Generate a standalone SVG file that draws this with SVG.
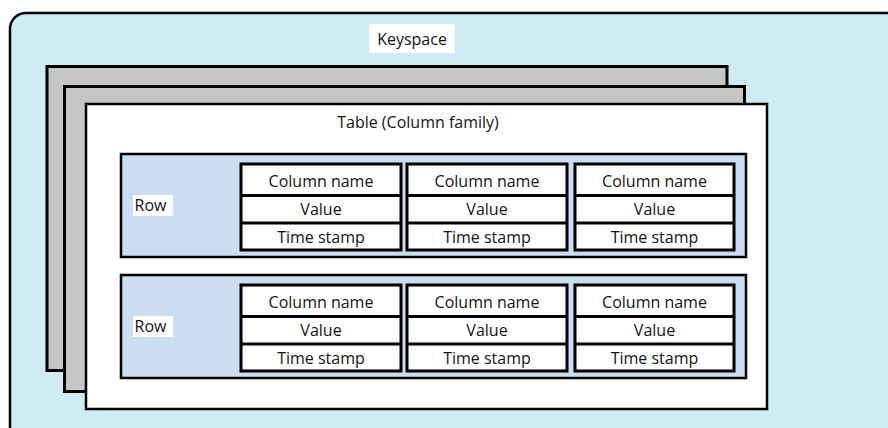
<svg xmlns="http://www.w3.org/2000/svg" width="888" height="428" viewBox="0 0 888 428">
  <style>
    text { font-family: "Open Sans", "Liberation Sans", sans-serif; font-size: 16px; fill: #141414; }
    .mid { text-anchor: middle; dominant-baseline: central; }
    .keyspace { fill: #cfecf4; stroke: #000; stroke-width: 2.5; }
    .sheet { fill: #c6c6c6; stroke: #000; stroke-width: 3; }
    .table { fill: #fff; stroke: #000; stroke-width: 2.5; }
    .row { fill: #cbddf1; stroke: #000; stroke-width: 2.5; }
    .cell { fill: #fff; stroke: #000; stroke-width: 3; }
    .rule { stroke: #000; stroke-width: 3; }
    .tag { fill: #fff; }
  </style>

  <!-- Keyspace container -->
  <g id="keyspace">
    <rect class="keyspace" x="10" y="13" width="892" height="430" rx="16"/>
    <rect class="tag" x="369" y="24" width="86" height="29"/>
    <text class="mid" x="412" y="38.5">Keyspace</text>
  </g>

  <!-- Stacked tables behind -->
  <g id="table-back-2">
    <rect class="sheet" x="47" y="66.5" width="680" height="304"/>
  </g>
  <g id="table-back-1">
    <rect class="sheet" x="64.5" y="86.5" width="680" height="305"/>
  </g>

  <!-- Front table -->
  <g id="table">
    <rect class="table" x="86" y="104" width="681" height="305"/>
    <text class="mid" x="418" y="122">Table (Column family)</text>
  </g>

  <!-- Row 1 -->
  <g id="row-1">
    <rect class="row" x="121" y="154" width="625" height="103"/>
    <rect class="tag" x="133" y="195" width="40" height="21"/>
    <text x="134.5" y="211">Row</text>
  </g>
  <g id="row-1-col-1">
    <rect class="cell" x="241" y="164" width="160" height="86"/>
    <line class="rule" x1="241" y1="195.5" x2="401" y2="195.5"/>
    <line class="rule" x1="241" y1="223" x2="401" y2="223"/>
    <text class="mid" x="321" y="180.5">Column name</text>
    <text class="mid" x="321" y="209">Value</text>
    <text class="mid" x="321" y="237">Time stamp</text>
  </g>
  <g id="row-1-col-2">
    <rect class="cell" x="407" y="164" width="160" height="86"/>
    <line class="rule" x1="407" y1="195.5" x2="567" y2="195.5"/>
    <line class="rule" x1="407" y1="223" x2="567" y2="223"/>
    <text class="mid" x="487" y="180.5">Column name</text>
    <text class="mid" x="487" y="209">Value</text>
    <text class="mid" x="487" y="237">Time stamp</text>
  </g>
  <g id="row-1-col-3">
    <rect class="cell" x="575" y="164" width="159" height="86"/>
    <line class="rule" x1="575" y1="195.5" x2="734" y2="195.5"/>
    <line class="rule" x1="575" y1="223" x2="734" y2="223"/>
    <text class="mid" x="654.5" y="180.5">Column name</text>
    <text class="mid" x="654.5" y="209">Value</text>
    <text class="mid" x="654.5" y="237">Time stamp</text>
  </g>

  <!-- Row 2 -->
  <g id="row-2">
    <rect class="row" x="121" y="275" width="625" height="103"/>
    <rect class="tag" x="133" y="316" width="40" height="21"/>
    <text x="134.5" y="332">Row</text>
  </g>
  <g id="row-2-col-1">
    <rect class="cell" x="241" y="285" width="160" height="86"/>
    <line class="rule" x1="241" y1="316.5" x2="401" y2="316.5"/>
    <line class="rule" x1="241" y1="344" x2="401" y2="344"/>
    <text class="mid" x="321" y="301.5">Column name</text>
    <text class="mid" x="321" y="330">Value</text>
    <text class="mid" x="321" y="358">Time stamp</text>
  </g>
  <g id="row-2-col-2">
    <rect class="cell" x="407" y="285" width="160" height="86"/>
    <line class="rule" x1="407" y1="316.5" x2="567" y2="316.5"/>
    <line class="rule" x1="407" y1="344" x2="567" y2="344"/>
    <text class="mid" x="487" y="301.5">Column name</text>
    <text class="mid" x="487" y="330">Value</text>
    <text class="mid" x="487" y="358">Time stamp</text>
  </g>
  <g id="row-2-col-3">
    <rect class="cell" x="575" y="285" width="159" height="86"/>
    <line class="rule" x1="575" y1="316.5" x2="734" y2="316.5"/>
    <line class="rule" x1="575" y1="344" x2="734" y2="344"/>
    <text class="mid" x="654.5" y="301.5">Column name</text>
    <text class="mid" x="654.5" y="330">Value</text>
    <text class="mid" x="654.5" y="358">Time stamp</text>
  </g>
</svg>
